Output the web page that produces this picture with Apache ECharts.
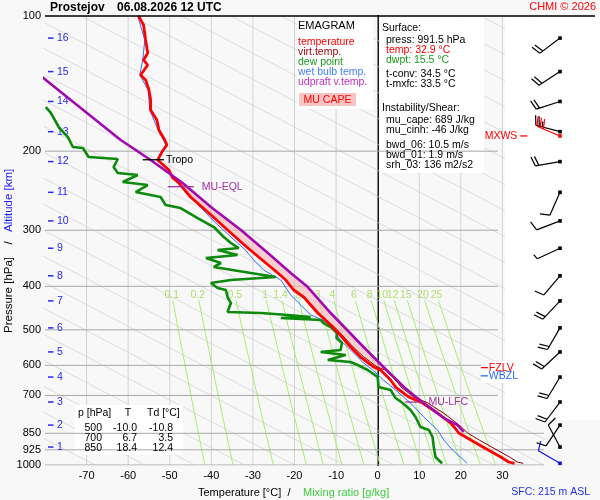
<!DOCTYPE html>
<html><head><meta charset="utf-8">
<script src="https://cdn.jsdelivr.net/npm/echarts@6/dist/echarts.min.js"></script>
<style>html,body{margin:0;padding:0;background:#f8f8f8}#c{width:600px;height:500px}</style>
</head><body><div id="c"></div>
<script>
// ---------------- data ----------------
const pressureTicks = [100,200,300,400,500,600,700,850,925,1000];
const isobarLevels = [200,300,400,500,600,700,850,925,1000];
const isotherms = [-70,-60,-50,-40,-30,-20,-10,0,10,20,30];
const guideLineBaseT = [-80,-68,-56,-44,-32,-20,-8,4,16,28,40,52,64,76,88,100,112,124,136,148,160,172,184,196,208,220,232,244];
const mixingRatios = [0.1,0.2,0.5,1,1.4,2,3,4,6,8,10,12,15,20,25];

const tempP = [100,104.7,113.1,120.9,125.3,128.6,135.3,138.8,146.2,153.8,162.0,170.4,179.5,188.9,193.8,200.9,209.3,220.3,229.5,235.5,253.0,274.7,299.7,327.0,354.9,373.6,387.3,407.6,422.6,458.7,492.8,518.7,546.0,574.8,604.9,614.3,636.8,646.7,670.4,705.7,727.6,766.0,806.3,827.1,848.6,879.6,926.0,959.9,984.7,991.5];
const tempT = [-57.5,-56.3,-55.8,-55.3,-56.3,-55.3,-57.0,-55.8,-55.0,-54.6,-54.6,-53.1,-52.6,-51.2,-50.7,-51.9,-52.9,-50.2,-49.3,-47.8,-45.0,-40.6,-36.1,-31.5,-26.9,-24.0,-22.1,-20.2,-17.8,-14.4,-10.8,-8.6,-6.5,-4.1,-1.0,0.7,2.4,3.1,4.3,7.5,10.8,14.4,17.5,18.6,19.5,22.4,26.6,29.6,31.5,32.9];
const virtT = [-57.5,-56.3,-55.8,-55.3,-56.3,-55.3,-57.0,-55.8,-55.0,-54.6,-54.6,-53.1,-52.6,-51.2,-50.7,-51.9,-52.9,-50.2,-49.3,-47.8,-45.0,-40.6,-36.1,-31.5,-26.9,-24.0,-22.1,-20.1,-17.6,-14.1,-10.4,-8.1,-5.9,-3.3,-0.1,1.7,3.6,4.3,5.6,8.7,12.1,15.8,19.0,20.4,21.6,24.4,28.7,31.7,33.6,35.0];

const dewP = [159.5,164.4,176.7,186.0,195.8,196.8,206.1,208.2,216.9,223.7,226.0,234.3,237.9,246.6,253.0,263.6,267.7,281.8,295.1,310.6,320.3,328.7,332.0,340.7,345.9,354.9,362.2,373.6,381.4,387.3,393.3,403.5,407.6,422.6,435.8,456.3,458.7,463.4,468.2,470.6,475.5,482.8,495.3,508.2,521.4,535.0,554.5,560.2,568.9,583.6,589.6,598.8,614.3,636.8,670.4,680.8,709.4,727.6,754.3,781.9,823.0,835.6,866.2,912.0,959.9,991.5];
const dewT = [-79.8,-78.6,-76.7,-74.5,-73.3,-70.9,-69.5,-62.5,-63.5,-62.5,-57.7,-61.3,-55.3,-58.2,-52.2,-51.0,-47.4,-43.3,-39.4,-37.0,-35.3,-33.4,-38.5,-33.7,-41.3,-37.7,-39.4,-30.5,-24.5,-35.3,-40.1,-38.5,-36.5,-36.1,-35.3,-36.1,-28.1,-21.6,-16.1,-23.3,-13.7,-13.0,-11.0,-9.8,-9.9,-8.6,-8.9,-13.7,-7.7,-12.0,-6.5,-4.8,-2.4,0.0,0.2,3.1,4.3,6.0,7.9,9.1,10.3,12.3,13.2,13.5,13.9,15.5];

const wetP = [100,113.1,125.3,135.3,146.2,162.0,179.5,193.8,209.3,220.3,235.5,257.0,284.7,310.6,332.0,349.5,367.9,387.3,418.2,440.3,463.4,475.5,492.8,526.8,554.5,574.8,592.6,614.3,646.7,680.8,727.6,781.9,835.6,879.6,926.0,984.7,991.5];
const wetT = [-57.7,-56.0,-56.5,-57.2,-55.2,-54.8,-52.8,-50.9,-53.1,-50.4,-48.1,-44.2,-39.7,-35.3,-31.8,-29.8,-27.4,-23.3,-20.9,-18.5,-16.1,-13.2,-10.9,-9.0,-6.5,-4.8,-3.4,-1.2,1.4,4.3,7.9,11.1,14.4,15.9,18.0,21.2,21.4];

const parcelP = [127.4,138.8,188.9,209.3,235.5,266.3,299.7,337.2,373.6,401.5,458.7,546.0,604.9,670.4,705.7,727.6,786.0,814.6,844.3];
const parcelT = [-84.9,-79.8,-61.8,-54.6,-46.9,-40.1,-32.9,-26.4,-20.9,-16.8,-11.3,-3.4,1.4,6.3,9.2,11.1,15.9,19.2,20.7];
const capeTopP = 232, capeBaseP = 712;

const altKm = [16,15,14,13,12,11,10,9,8,7,6,5,4,3,2,1];
const altP = [112,133,155,181,211,247,286,329,379,431,495,560,637,724,815,912];

const windP = [112,133,155,181,211,247,286,329,379,431,495,560,637,724,815,912];
const windDir = [233,237,252,285,260,204,249,245,220,223,210,227,211,217,214,332];
const windSpd = [20,20,20,25,20,10,10,5,10,20,20,20,20,20,10,10];
const sfcWindP = [991.5], sfcWindDir = [300], sfcWindSpd = [10];
const mxwsP = [185], mxwsDir = [293], mxwsSpd = [30];

const annotNames = ['Tropo','MU-EQL','MU-LFC','FZLV','WBZL','MXWS'];
const annotP = [209,240,724,607,633,185];

const tableP = [500,700,850];
const tableT = [-10.0,6.7,18.4];
const tableTd = [-10.8,3.5,12.4];

const surfPress = 991.5, surfTemp = 32.9, surfDwpt = 15.5, tConv = 34.5, tMxfc = 33.5;
const muCape = 689, muCinh = -46, bwd06 = 10.5, bwd01 = 1.9, srh03 = 136;
const stationName = 'Prostejov', dateText = '06.08.2026 12 UTC', sfcHeight = 215;

// ---------------- styles / helpers ----------------
const FONT = '"Liberation Sans", Arial, sans-serif';
const annotStyle = [
  {t1:-56.5,t2:-51.4,color:'#000000',side:'right',gap:2},
  {t1:-50.5,t2:-44.2,color:'#a030a0',side:'right',gap:8},
  {t1:6.6,t2:11.0,color:'#a030a0',side:'right',gap:5},
  {t1:24.8,t2:26.5,color:'#ff0000',side:'right',gap:1},
  {t1:24.8,t2:26.5,color:'#2a6aff',side:'right',gap:1},
  {t1:34.3,t2:36.0,color:'#ff0000',side:'left',gap:3}
];
// white panel boxes (pixel layout)
const panelBoxes = [[297,17,76,92],[380,17,104,156],[75,405,108,50],[505,17,95,403]];
const labelBoxes = [[481,361,48,22]];
const GUIDE_SLOPE = 90; // K per unit ln p of background guide lines
function tdFromW(w,p){const e=w*p/(622+w);const l=Math.log(e/6.112);return 243.5*l/(17.67-l);}
const mixSampleP=[430,500,600,700,850,1000];
const zip=(P,T)=>P.map((p,i)=>[T[i],p]);

const series=[];
// background diagonal guide lines
guideLineBaseT.forEach(t0=>{
  series.push({type:'line',xAxisIndex:0,yAxisIndex:0,symbol:'none',silent:true,z:1,
    lineStyle:{color:'#d6d6d6',width:0.8},
    data:[[t0+GUIDE_SLOPE*Math.log(100/1000),100],[t0,1000]]});
});
// isotherms
isotherms.forEach(t=>{
  series.push({type:'line',xAxisIndex:0,yAxisIndex:0,symbol:'none',silent:true,z:t===0?4:1,
    lineStyle:{color:t===0?'#999999':'#d2d2d2',width:1},data:[[t,100],[t,1000]]});
});
// mixing ratio lines
mixingRatios.forEach(w=>{
  series.push({type:'line',xAxisIndex:0,yAxisIndex:0,symbol:'none',silent:true,z:2,
    lineStyle:{color:'#a4f070',width:1},data:mixSampleP.map(p=>[tdFromW(w,p),p])});
});
series.push({type:'scatter',xAxisIndex:0,yAxisIndex:0,symbolSize:0,silent:true,z:7,
  data:mixingRatios.map(w=>[tdFromW(w,418),418,w]),
  label:{show:true,position:'inside',formatter:p=>String(p.value[2]),color:'#9ed84c',fontSize:10.5,fontFamily:FONT}});
// white panels (series so that z-order with isobars is exact)
const boxRenderer=boxes=>(params,api)=>params.dataIndex!==0?null:
  {type:'group',children:boxes.map(b=>({type:'rect',shape:{x:b[0],y:b[1],width:b[2],height:b[3]},style:{fill:'#ffffff'}}))};
series.push({type:'custom',xAxisIndex:0,yAxisIndex:0,z:3,silent:true,data:[[0,500]],renderItem:boxRenderer(panelBoxes)});
series.push({type:'custom',xAxisIndex:0,yAxisIndex:0,z:10.5,silent:true,data:[[0,500]],renderItem:boxRenderer(labelBoxes)});
// isobars
isobarLevels.forEach(p=>{
  series.push({type:'line',xAxisIndex:0,yAxisIndex:0,symbol:'none',silent:true,z:4,
    lineStyle:{color:'#a8a8a8',width:1},data:[[-80,p],[p>=800?40:28.9,p]]});
});
// pressure labels
series.push({type:'custom',xAxisIndex:0,yAxisIndex:0,z:5,silent:true,
  data:pressureTicks.map(p=>[-80,p]),
  renderItem:(params,api)=>{const c=api.coord([api.value(0),api.value(1)]);
    return {type:'text',style:{x:c[0]-4,y:c[1],text:String(api.value(1)),align:'right',verticalAlign:'middle',textAlign:'right',textVerticalAlign:'middle',fontSize:11,fontFamily:FONT,fill:'#000'}};}});
// altitude labels
series.push({type:'custom',xAxisIndex:0,yAxisIndex:0,z:6,silent:true,
  data:altKm.map((k,i)=>[-80,altP[i],k]),
  renderItem:(params,api)=>{const c=api.coord([api.value(0),api.value(1)]);
    return {type:'group',children:[
      {type:'line',shape:{x1:c[0]+3,y1:c[1],x2:c[0]+8.5,y2:c[1]},style:{stroke:'#2828f0',lineWidth:1.5}},
      {type:'text',style:{x:c[0]+12,y:c[1],text:String(api.value(2)),verticalAlign:'middle',textVerticalAlign:'middle',fontSize:10.5,fontFamily:FONT,fill:'#2828f0'}}]};}});
// CAPE area
const capeUp=[],capeDn=[];
parcelP.forEach((p,i)=>{if(p>=capeTopP&&p<=capeBaseP)capeUp.push([parcelT[i],p]);});
tempP.forEach((p,i)=>{if(p>=capeTopP&&p<=capeBaseP)capeDn.push([virtT[i],p]);});
const capePoly=capeUp.concat(capeDn.reverse());
series.push({type:'custom',xAxisIndex:0,yAxisIndex:0,z:6,silent:true,data:capePoly,
  renderItem:(params,api)=>{if(params.dataIndex!==0)return null;
    return {type:'polygon',shape:{points:capePoly.map(pt=>api.coord(pt))},style:{fill:'rgba(248,180,180,0.6)'}};}});
// profiles
series.push({name:'wet bulb temp.',type:'line',xAxisIndex:0,yAxisIndex:0,symbol:'none',z:8,lineStyle:{color:'#2f6fff',width:1},data:zip(wetP,wetT)});
series.push({name:'dew point',type:'line',xAxisIndex:0,yAxisIndex:0,symbol:'none',z:8,lineStyle:{color:'#0c8a0c',width:2.6},data:zip(dewP,dewT)});
series.push({name:'virt.temp.',type:'line',xAxisIndex:0,yAxisIndex:0,symbol:'none',z:9,lineStyle:{color:'#8c0000',width:1},data:zip(tempP,virtT)});
series.push({name:'temperature',type:'line',xAxisIndex:0,yAxisIndex:0,symbol:'none',z:9,lineStyle:{color:'#ff0000',width:2.8},data:zip(tempP,tempT)});
series.push({name:'udpraft v.temp.',type:'line',xAxisIndex:0,yAxisIndex:0,symbol:'none',z:10,lineStyle:{color:'#a00ab0',width:2.6},data:zip(parcelP,parcelT)});
// annotations
series.push({type:'custom',xAxisIndex:0,yAxisIndex:0,z:11,silent:true,
  data:annotP.map((p,i)=>[annotStyle[i].t1,p,i]),
  renderItem:(params,api)=>{const i=api.value(2),s=annotStyle[i];
    const a=api.coord([s.t1,api.value(1)]),b=api.coord([s.t2,api.value(1)]);
    const left=s.side==='left';
    return {type:'group',children:[
      {type:'line',shape:{x1:a[0],y1:a[1],x2:b[0],y2:b[1]},style:{stroke:s.color,lineWidth:1.3}},
      {type:'text',style:{x:left?a[0]-s.gap:b[0]+s.gap,y:a[1],text:annotNames[i],align:left?'right':'left',textAlign:left?'right':'left',verticalAlign:'middle',textVerticalAlign:'middle',fontSize:10.5,fontFamily:FONT,fill:s.color}}]};}});
// wind barbs
function barbRenderer(color){
  return (params,api)=>{
    const c=api.coord([0,api.value(0)]);
    const d=api.value(1)*Math.PI/180,s=api.value(2);
    const ux=Math.sin(d),uy=-Math.cos(d),L=25;
    const ex=c[0]+ux*L,ey=c[1]+uy*L;
    let fx=-uy*0.96+ux*0.28,fy=ux*0.96+uy*0.28;
    const ch=[{type:'line',shape:{x1:c[0],y1:c[1],x2:ex,y2:ey},style:{stroke:color,lineWidth:1.2}},
      {type:'rect',shape:{x:c[0]-1.8,y:c[1]-1.8,width:3.6,height:3.6},style:{fill:color}}];
    const n10=Math.floor(s/10),n5=(s%10)>=5?1:0;let pos=0;
    for(let k=0;k<n10;k++){const bx=ex-ux*pos,by=ey-uy*pos;
      ch.push({type:'line',shape:{x1:bx,y1:by,x2:bx+fx*10,y2:by+fy*10},style:{stroke:color,lineWidth:1.2}});pos+=3.5;}
    if(n5){const bx=ex-ux*pos,by=ey-uy*pos;
      ch.push({type:'line',shape:{x1:bx,y1:by,x2:bx+fx*5.5,y2:by+fy*5.5},style:{stroke:color,lineWidth:1.2}});}
    return {type:'group',children:ch};
  };
}
series.push({type:'custom',xAxisIndex:1,yAxisIndex:1,z:12,silent:true,data:windP.map((p,i)=>[p,windDir[i],windSpd[i]]),encode:{y:0},renderItem:barbRenderer('#000000')});
series.push({type:'custom',xAxisIndex:1,yAxisIndex:1,z:12,silent:true,data:mxwsP.map((p,i)=>[p,mxwsDir[i],mxwsSpd[i]]),encode:{y:0},renderItem:barbRenderer('#ff0000')});
series.push({type:'custom',xAxisIndex:1,yAxisIndex:1,z:12,silent:true,data:sfcWindP.map((p,i)=>[p,sfcWindDir[i],sfcWindSpd[i]]),encode:{y:0},renderItem:barbRenderer('#1010ee')});

// ---------------- graphic (text panels) ----------------
const T=(x,y,text,opt)=>Object.assign({type:'text',z:20,style:Object.assign({x:x,y:y,text:text,fontSize:10.5,fontFamily:FONT,fill:'#000',verticalAlign:'middle',textVerticalAlign:'middle'},opt||{})});
const R=(x,y,w,h,fill,z)=>({type:'rect',z:z||3,shape:{x:x,y:y,width:w,height:h},style:{fill:fill}});
const f1=v=>v.toFixed(1);
const graphics=[
  {type:'line',z:20,shape:{x1:45,y1:16,x2:595,y2:16},style:{stroke:'#000',lineWidth:1.3}},
  T(50,7.5,stationName,{fontSize:12,fontWeight:'bold'}),
  T(117,7.5,dateText,{fontSize:12,fontWeight:'bold'}),
  T(596,7,'CHMI © 2026',{fontSize:11,fill:'#ff0000',align:'right',textAlign:'right'}),
  T(298,26,'EMAGRAM',{fontSize:11}),
  T(298,42,'temperature',{fill:'#ff0000'}),
  T(298,52,'virt.temp.',{fill:'#9a0000'}),
  T(298,62,'dew point',{fill:'#1a9a1a'}),
  T(298,72,'wet bulb temp.',{fill:'#3f7fff'}),
  T(298,82,'udpraft v.temp.',{fill:'#c030c0'}),
  R(299,93,57,13,'#f8c4c4',19),
  T(327.5,100,'MU CAPE',{fill:'#ff0000',align:'center',textAlign:'center'}),
  T(382,28,'Surface:'),
  T(386,40,'press: '+f1(surfPress)+' hPa'),
  T(386,50,'temp: '+f1(surfTemp)+' °C',{fill:'#ff0000'}),
  T(386,60,'dwpt: '+f1(surfDwpt)+' °C',{fill:'#1a9a1a'}),
  T(386,74,'t-conv: '+f1(tConv)+' °C'),
  T(386,84,'t-mxfc: '+f1(tMxfc)+' °C'),
  T(382,108,'Instability/Shear:'),
  T(386,120,'mu_cape: '+muCape+' J/kg'),
  T(386,130,'mu_cinh: '+muCinh+' J/kg'),
  T(386,145,'bwd_06: '+f1(bwd06)+' m/s'),
  T(386,155,'bwd_01: '+f1(bwd01)+' m/s'),
  T(386,165,'srh_03: '+srh03+' m2/s2'),
  T(78,413,'p [hPa]'),
  T(128,413,'T',{align:'center',textAlign:'center'}),
  T(147,413,'Td [°C]'),
  T(198,493,'Temperature [°C]  /',{fontSize:11}),
  T(303,493,'Mixing ratio [g/kg]',{fontSize:11,fill:'#3ccc3c'}),
  T(590,492,'SFC: '+sfcHeight+' m ASL',{fill:'#2030e8',align:'right',textAlign:'right'}),
  {type:'group',x:9,y:252,rotation:Math.PI/2,z:20,children:[
    {type:'text',z:20,style:{x:-81,y:0,text:'Pressure [hPa]',fontSize:11.5,fontFamily:FONT,fill:'#000',verticalAlign:'middle',textVerticalAlign:'middle'}},
    {type:'text',z:20,style:{x:9,y:0,text:'/',fontSize:11.5,fontFamily:FONT,fill:'#000',align:'center',textAlign:'center',verticalAlign:'middle',textVerticalAlign:'middle'}},
    {type:'text',z:20,style:{x:20,y:0,text:'Altitude [km]',fontSize:11.5,fontFamily:FONT,fill:'#2020ff',verticalAlign:'middle',textVerticalAlign:'middle'}}
  ]}
];
tableP.forEach((p,i)=>{
  const y=428+i*10;
  graphics.push(T(102,y,String(p),{align:'right',textAlign:'right'}));
  graphics.push(T(137,y,f1(tableT[i]),{align:'right',textAlign:'right'}));
  graphics.push(T(173,y,f1(tableTd[i]),{align:'right',textAlign:'right'}));
});

const chart=echarts.init(document.getElementById('c'),null,{renderer:'canvas'});
chart.setOption({
  animation:false,
  backgroundColor:'#f8f8f8',
  grid:[{left:45,right:56,top:16,bottom:35},{left:540,width:40,top:16,bottom:35}],
  xAxis:[
    {type:'value',gridIndex:0,min:-80,max:40,interval:10,axisLine:{show:false},axisTick:{show:false},splitLine:{show:false},
      axisLabel:{margin:5,fontSize:11,color:'#000',fontFamily:FONT,formatter:v=>(v<=-80||v>=40)?'':String(v)}},
    {type:'value',gridIndex:1,min:-1,max:1,show:false}
  ],
  yAxis:[
    {type:'log',gridIndex:0,logBase:10,min:100,max:1000,inverse:true,axisLine:{show:true,lineStyle:{color:'#000',width:2}},
      axisTick:{show:false},splitLine:{show:false},axisLabel:{show:false}},
    {type:'log',gridIndex:1,logBase:10,min:100,max:1000,inverse:true,show:false}
  ],
  series:series,
  graphic:{elements:graphics}
});
</script></body></html>
